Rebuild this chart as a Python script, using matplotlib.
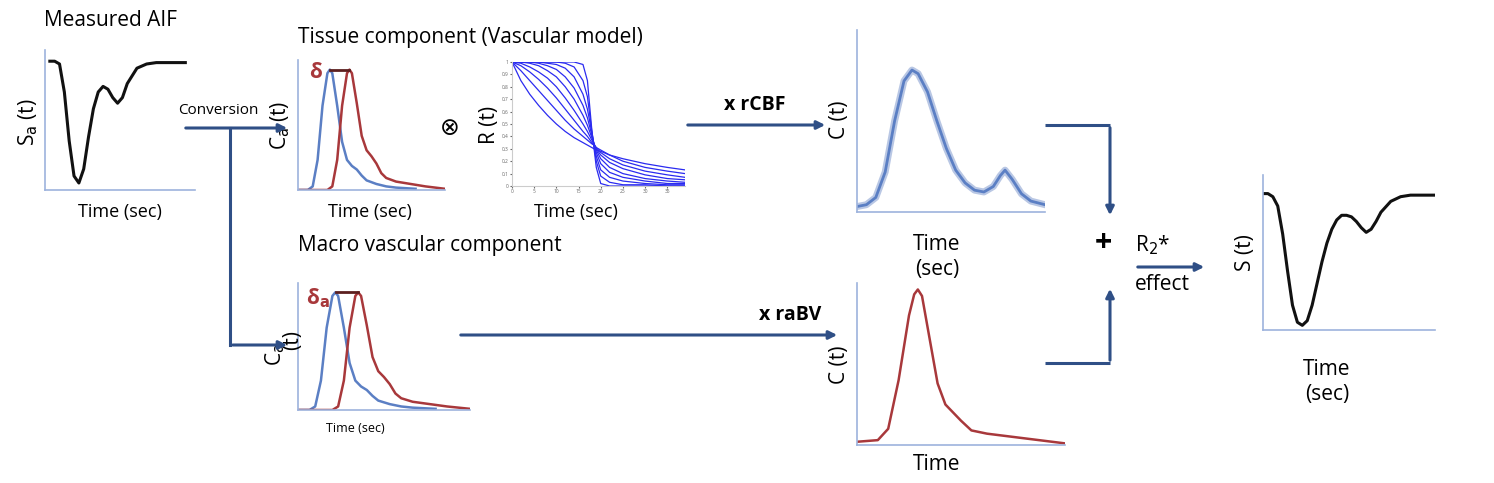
import matplotlib
matplotlib.use("Agg")
import matplotlib.pyplot as plt
import numpy as np

W, H = 1494, 483
NAVY = "#2f4f86"
BLUE = "#5b7fc4"
RED = "#a8383b"
SPINE = "#9db3dd"

# measured AIF signal
aif_t = [0, 1, 2, 3, 4, 5, 6, 7, 8, 9, 10, 11, 12, 13, 14, 15, 16, 18, 20, 22, 24, 26, 28]
aif_s = [0.92, 0.92, 0.9, 0.7, 0.35, 0.1, 0.05, 0.15, 0.38, 0.58, 0.7, 0.74, 0.72, 0.66,
         0.62, 0.66, 0.76, 0.87, 0.9, 0.91, 0.91, 0.91, 0.91]
# arterial concentration, before and after delay
ca_t = [0, 2, 3, 4, 5, 6, 6.5, 7, 8, 9, 10, 11, 12, 13, 14, 16, 18, 20, 24]
ca = [0, 0, 0.03, 0.25, 0.7, 0.97, 1.0, 0.97, 0.7, 0.4, 0.25, 0.2, 0.17, 0.12, 0.08,
      0.05, 0.03, 0.02, 0.01]
cad_t = [0, 6, 7, 8, 9, 10, 10.5, 11, 12, 13, 14, 15, 16, 17, 18, 20, 23, 26, 30]
cad = [0, 0, 0.03, 0.25, 0.7, 0.97, 1.0, 0.97, 0.72, 0.45, 0.33, 0.28, 0.22, 0.14, 0.1,
       0.07, 0.05, 0.03, 0.01]
# residue functions of the vascular model
r_t = [0, 2, 4, 6, 8, 10, 12, 14, 16, 17, 18, 18.5, 19, 20, 22, 25, 30, 35, 39]
r_curves = [
    [1, 0.85, 0.74, 0.65, 0.57, 0.5, 0.44, 0.39, 0.35, 0.33, 0.31, 0.3, 0.29, 0.28, 0.25, 0.22, 0.18, 0.15, 0.13],
    [1, 0.93, 0.85, 0.77, 0.69, 0.61, 0.53, 0.46, 0.4, 0.37, 0.34, 0.33, 0.31, 0.29, 0.25, 0.2, 0.15, 0.12, 0.1],
    [1, 0.97, 0.92, 0.86, 0.79, 0.71, 0.62, 0.53, 0.44, 0.4, 0.35, 0.33, 0.31, 0.27, 0.22, 0.17, 0.12, 0.09, 0.07],
    [1, 0.99, 0.96, 0.92, 0.87, 0.8, 0.71, 0.61, 0.5, 0.44, 0.37, 0.34, 0.3, 0.25, 0.19, 0.14, 0.09, 0.06, 0.05],
    [1, 1, 0.99, 0.97, 0.93, 0.88, 0.8, 0.7, 0.57, 0.49, 0.39, 0.34, 0.29, 0.22, 0.15, 0.1, 0.06, 0.04, 0.03],
    [1, 1, 1, 0.99, 0.97, 0.94, 0.88, 0.79, 0.65, 0.55, 0.41, 0.34, 0.27, 0.18, 0.11, 0.07, 0.04, 0.02, 0.02],
    [1, 1, 1, 1, 0.99, 0.98, 0.95, 0.88, 0.74, 0.62, 0.43, 0.33, 0.24, 0.13, 0.07, 0.04, 0.02, 0.01, 0.01],
    [1, 1, 1, 1, 1, 1, 0.99, 0.96, 0.85, 0.72, 0.44, 0.32, 0.2, 0.08, 0.03, 0.01, 0.01, 0, 0],
    [1, 1, 1, 1, 1, 1, 1, 1, 0.98, 0.85, 0.45, 0.3, 0.15, 0.02, 0, 0, 0, 0, 0],
]
# tissue concentration
ct_t = [0, 2, 4, 6, 8, 10, 11.7, 13, 15, 17, 19, 21, 23, 25, 27, 29, 30.5, 31.5, 33, 35, 37, 40]
ct = [0.03, 0.04, 0.08, 0.22, 0.5, 0.72, 0.78, 0.76, 0.66, 0.5, 0.35, 0.23, 0.16, 0.12,
      0.11, 0.14, 0.2, 0.23, 0.18, 0.1, 0.06, 0.04]
# macro vascular concentration
cb_t = [0, 4, 6, 8, 10, 11, 11.7, 12.5, 14, 15.5, 17, 18.5, 20, 22, 25, 30, 35, 40]
cb = [0.02, 0.03, 0.1, 0.4, 0.8, 0.93, 0.96, 0.92, 0.65, 0.38, 0.25, 0.2, 0.15, 0.09,
      0.07, 0.05, 0.03, 0.01]
# resulting signal
s_t = [0, 1, 2, 3, 4, 5, 6, 7, 8, 9, 10, 11, 12, 13, 14, 15, 16, 17, 18, 19, 20, 21, 22,
       23, 24, 26, 28, 30, 33, 35]
s = [0.88, 0.88, 0.86, 0.8, 0.62, 0.38, 0.16, 0.05, 0.03, 0.06, 0.16, 0.3, 0.44, 0.56,
     0.65, 0.71, 0.74, 0.74, 0.73, 0.7, 0.66, 0.63, 0.65, 0.7, 0.76, 0.83, 0.86, 0.87,
     0.87, 0.87]

fig = plt.figure(figsize=(W / 100, H / 100), dpi=100)
plt.rcParams["font.family"] = ["Open Sans", "DejaVu Sans"]
plt.rcParams["lines.solid_joinstyle"] = "round"


def panel(x0, y0, x1, y1, xlim, ylim):
    ax = fig.add_axes([x0 / W, 1 - y1 / H, (x1 - x0) / W, (y1 - y0) / H])
    ax.set_facecolor("none")
    ax.set_xlim(*xlim)
    ax.set_ylim(*ylim)
    for side in ("top", "right"):
        ax.spines[side].set_visible(False)
    for side in ("left", "bottom"):
        ax.spines[side].set_color(SPINE)
        ax.spines[side].set_linewidth(1.2)
    ax.set_xticks([])
    ax.set_yticks([])
    return ax


ov = fig.add_axes([0, 0, 1, 1], zorder=5)
ov.set_facecolor("none")
ov.set_xlim(0, W)
ov.set_ylim(H, 0)
ov.axis("off")


def txt(x, y, s_, size=15, **kw):
    ov.text(x, y, s_, fontsize=size, va="center", **kw)


def arrow(pts):
    xs, ys = zip(*pts)
    ov.plot(xs[:-1], ys[:-1], color=NAVY, lw=2.2, solid_capstyle="butt")
    ov.annotate("", xy=pts[-1], xytext=pts[-2],
                arrowprops=dict(arrowstyle="-|>", color=NAVY, lw=2.2, mutation_scale=12))


# Measured AIF
ax = panel(45, 50, 195, 190, (-1, 30), (0, 1))
ax.plot(aif_t, aif_s, color="#111111", lw=2.2)
txt(44, 20, "Measured AIF", 15)
txt(28, 122, r"S$_\mathrm{a}$ (t)", 15, rotation=90, ha="center")
txt(120, 212, "Time (sec)", 13, ha="center")

# Tissue Ca
txt(298, 38, "Tissue component (Vascular model)", 15)
for (y0, y1, xr) in [(60, 190, 445), (283, 410, 470)]:
    ax = panel(298, y0, xr, y1, (0, 30), (0, 1.08))
    ax.plot(ca_t, ca, color=BLUE, lw=1.8)
    ax.plot(cad_t, cad, color=RED, lw=1.8)
    ax.plot([6.6, 10.4], [1.0, 1.0], color="#5c1f1f", lw=2)
txt(370, 212, "Time (sec)", 13, ha="center")
txt(355, 428, "Time (sec)", 9, ha="center")
txt(316, 73, "δ", 15, color=RED, weight="bold", ha="center")
txt(318, 298, r"δ$_\mathbf{a}$", 15, color=RED, weight="bold", ha="center")
txt(280, 125, r"C$_\mathrm{a}$ (t)", 15, rotation=90, ha="center")
txt(275, 355, r"C$_\mathrm{a}$", 15, rotation=90, ha="center")
txt(293, 340, "(t)", 15, rotation=90, ha="center")
txt(298, 246, "Macro vascular component", 15)
txt(450, 128, "⊗", 17, ha="center", family=["DejaVu Sans"])

# R(t)
ax = fig.add_axes([512 / W, 1 - 186 / H, 173 / W, 124 / H])
for c in r_curves:
    ax.plot(r_t, c, color="#2b2bf0", lw=0.9)
ax.set_xlim(0, 39)
ax.set_ylim(0, 1)
ax.set_xticks(range(0, 40, 5))
ax.set_yticks(np.arange(0, 1.01, 0.1))
ax.set_yticklabels(["0"] + [f"{v:.1f}" for v in np.arange(0.1, 0.95, 0.1)] + ["1"])
ax.tick_params(labelsize=3.5, length=1.5, pad=1, colors="#666666")
for side in ("top", "right"):
    ax.spines[side].set_visible(False)
for side in ("left", "bottom"):
    ax.spines[side].set_color("#cccccc")
txt(490, 125, "R (t)", 15, rotation=90, ha="center")
txt(576, 212, "Time (sec)", 13, ha="center")

# C(t) tissue
ax = panel(857, 30, 1045, 212, (0, 40), (0, 1))
ax.plot(ct_t, ct, color="#b9c7e4", lw=5)
ax.plot(ct_t, ct, color=BLUE, lw=2)
txt(840, 120, "C (t)", 15, rotation=90, ha="center")
txt(937, 257, "Time\n(sec)", 15, ha="center", multialignment="center")

# C(t) macro
ax = panel(857, 283, 1065, 445, (0, 40), (0, 1))
ax.plot(cb_t, cb, color=RED, lw=1.8)
txt(840, 365, "C (t)", 15, rotation=90, ha="center")
txt(937, 465, "Time", 15, ha="center")

# S(t)
ax = panel(1263, 175, 1435, 330, (0, 35), (0, 1))
ax.plot(s_t, s, color="#111111", lw=2.2)
txt(1246, 253, "S (t)", 15, rotation=90, ha="center")
txt(1327, 382, "Time\n(sec)", 15, ha="center", multialignment="center")

# arrows and labels
arrow([(183, 128), (290, 128)])
ov.plot([230, 230], [128, 345], color=NAVY, lw=2.2)
arrow([(230, 345), (290, 345)])
txt(218, 110, "Conversion", 11, ha="center")
arrow([(685, 125), (828, 125)])
txt(755, 105, "x rCBF", 14, weight="bold", ha="center")
arrow([(458, 335), (840, 335)])
txt(790, 315, "x raBV", 14, weight="bold", ha="center")
arrow([(1045, 125), (1110, 125), (1110, 218)])
arrow([(1045, 363), (1110, 363), (1110, 286)])
txt(1103, 243, "+", 22, weight="bold", ha="center")
arrow([(1135, 267), (1207, 267)])
txt(1135, 245, r"R$_\mathrm{2}$*", 15)
txt(1135, 285, "effect", 15)

fig.savefig("out.png", dpi=100)
